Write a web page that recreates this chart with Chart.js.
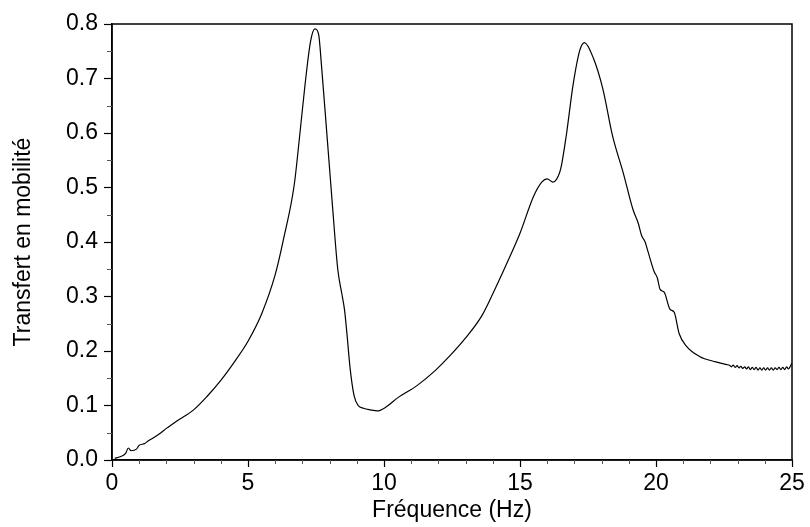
<!DOCTYPE html>
<html>
<head>
<meta charset="utf-8">
<script src="https://cdn.jsdelivr.net/npm/chart.js@4"></script>
<style>
  html, body { margin: 0; padding: 0; background: #fff; }
  #wrap { width: 810px; height: 527px; }
</style>
</head>
<body>
<div id="wrap"><canvas id="chart" width="810" height="527"></canvas></div>
<script>
// frequency (Hz) and mobility transfer
const freq = [
  0.1, 0.3, 0.5, 0.6, 0.7, 0.9, 1.0, 1.2, 1.3, 1.5, 1.8, 2.0, 2.4, 3.0, 3.5, 4.0, 4.5,
  5.0, 5.5, 6.0, 6.3, 6.7, 6.9, 7.1, 7.3, 7.46, 7.6, 7.7, 7.9, 8.1, 8.3, 8.45, 8.55,
  8.65, 8.75, 8.9, 9.05, 9.25, 9.5, 9.75, 10.1, 10.5, 11.2, 11.9, 12.4, 13.0, 13.6,
  14.0, 14.6, 15.0, 15.5, 15.8, 16.0, 16.2, 16.3, 16.5, 16.7, 16.95, 17.2, 17.37,
  17.7, 18.05, 18.4, 18.8, 19.15, 19.35, 19.47, 19.6, 19.72, 19.93, 20.05, 20.15,
  20.3, 20.51, 20.67, 20.85, 21.1, 21.6, 22.2, 22.6,
  22.7, 22.77, 22.84, 22.91, 22.98, 23.05, 23.12, 23.19, 23.26, 23.33, 23.4, 23.47,
  23.54, 23.61, 23.68, 23.75, 23.82, 23.89, 23.96, 24.03, 24.1, 24.17, 24.24, 24.31,
  24.38, 24.45, 24.52, 24.59, 24.66, 24.73, 24.8, 24.87, 24.94, 25.0
];
const mobility = [
  0.003, 0.006, 0.012, 0.022, 0.017, 0.020, 0.027, 0.030, 0.034, 0.040, 0.050, 0.058,
  0.072, 0.092, 0.117, 0.146, 0.180, 0.218, 0.268, 0.340, 0.404, 0.505, 0.595, 0.690,
  0.768, 0.791, 0.780, 0.725, 0.598, 0.470, 0.350, 0.305, 0.275, 0.225, 0.170, 0.118,
  0.100, 0.095, 0.092, 0.090, 0.098, 0.114, 0.136, 0.165, 0.190, 0.224, 0.265, 0.305,
  0.370, 0.416, 0.484, 0.510, 0.516, 0.510, 0.512, 0.535, 0.595, 0.688, 0.752, 0.766,
  0.737, 0.680, 0.595, 0.526, 0.460, 0.434, 0.412, 0.400, 0.380, 0.346, 0.334, 0.313,
  0.308, 0.277, 0.271, 0.232, 0.210, 0.190, 0.180, 0.175,
  0.174, 0.171, 0.174, 0.170, 0.173, 0.169, 0.172, 0.168, 0.171, 0.167, 0.171, 0.166,
  0.170, 0.166, 0.170, 0.165, 0.169, 0.165, 0.169, 0.165, 0.169, 0.165, 0.169, 0.165,
  0.169, 0.166, 0.170, 0.166, 0.170, 0.166, 0.171, 0.167, 0.172, 0.178
];
const yTicks = [0, 0.1, 0.2, 0.3, 0.4, 0.5, 0.6, 0.7, 0.8];
const xTicks = [0, 5, 10, 15, 20, 25];

const points = freq.map((f, i) => ({ x: f, y: mobility[i] }));
const tickFont = { family: 'Liberation Sans, Arial, sans-serif', size: 23 };
const titleFont = { family: 'Liberation Sans, Arial, sans-serif', size: 23 };

// top/right frame plus minor ticks
const framePlugin = {
  id: 'frame',
  afterDraw(chart) {
    const { ctx, chartArea: a, scales } = chart;
    ctx.save();
    ctx.strokeStyle = '#000';
    ctx.lineWidth = 1.5;
    ctx.strokeRect(a.left, a.top, a.right - a.left, a.bottom - a.top);
    ctx.lineWidth = 1;
    ctx.strokeStyle = '#555';
    for (let v = 0.05; v < 0.8; v += 0.1) {
      const y = Math.round(scales.y.getPixelForValue(v)) + 0.5;
      ctx.beginPath(); ctx.moveTo(a.left - 5, y); ctx.lineTo(a.left, y); ctx.stroke();
    }
    for (let v = 1; v < 25; v++) {
      if (v % 5 === 0) continue;
      const x = Math.round(scales.x.getPixelForValue(v)) + 0.5;
      ctx.beginPath(); ctx.moveTo(x, a.bottom); ctx.lineTo(x, a.bottom + 4); ctx.stroke();
    }
    ctx.restore();
  }
};

new Chart(document.getElementById('chart'), {
  type: 'line',
  data: {
    datasets: [{
      data: points,
      borderColor: '#000',
      borderWidth: 1.2,
      pointRadius: 0,
      cubicInterpolationMode: 'monotone',
      fill: false
    }]
  },
  options: {
    responsive: false,
    animation: false,
    layout: { padding: { left: 0, top: 24, right: 18, bottom: 0 } },
    plugins: { legend: { display: false }, tooltip: { enabled: false } },
    scales: {
      x: {
        type: 'linear',
        min: 0, max: 25,
        afterBuildTicks: s => { s.ticks = xTicks.map(v => ({ value: v })); },
        afterFit: s => { s.height = 67; },
        ticks: { color: '#000', font: tickFont, padding: 3, maxRotation: 0 },
        grid: { drawOnChartArea: false, tickLength: 7, color: '#000', tickWidth: 1.2 },
        border: { color: '#000', width: 1.5 },
        title: { display: true, text: 'Fréquence (Hz)', color: '#000', font: titleFont, padding: { top: 0, bottom: 3 } }
      },
      y: {
        type: 'linear',
        min: 0, max: 0.8,
        afterBuildTicks: s => { s.ticks = yTicks.map(v => ({ value: v })); },
        afterFit: s => { s.width = 112; },
        ticks: { color: '#000', font: tickFont, padding: 6, callback: v => v.toFixed(1) },
        grid: { drawOnChartArea: false, tickLength: 8, color: '#000', tickWidth: 1.2 },
        border: { color: '#000', width: 1.5 },
        title: { display: true, text: 'Transfert en mobilité', color: '#000', font: titleFont, padding: { top: 10, bottom: 0 } }
      }
    }
  },
  plugins: [framePlugin]
});
</script>
</body>
</html>
